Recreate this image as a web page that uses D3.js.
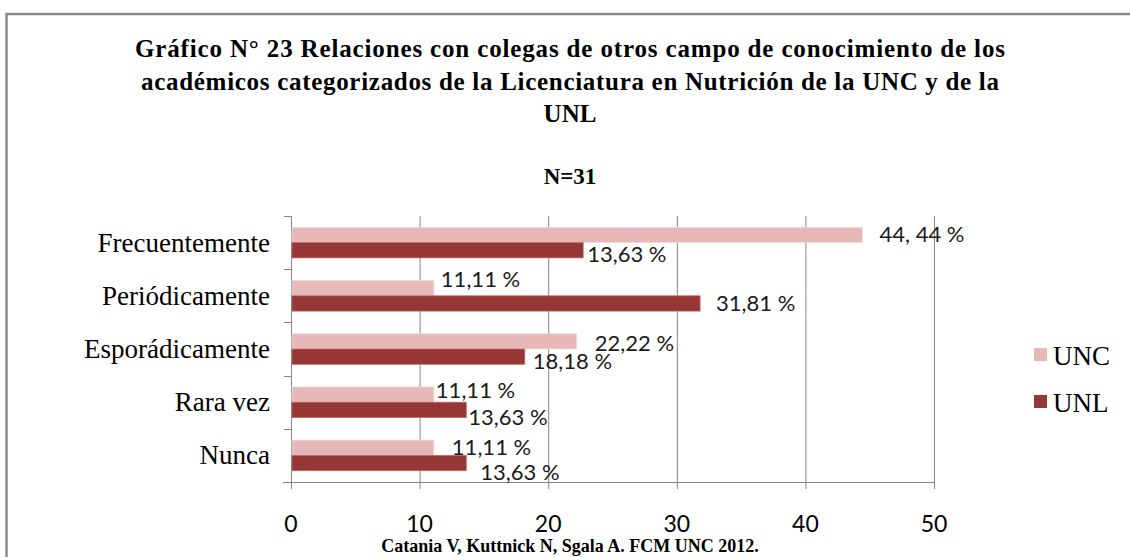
<!DOCTYPE html>
<html>
<head>
<meta charset="utf-8">
<script src="https://cdn.jsdelivr.net/npm/d3@7"></script>
<style>
  body { margin: 0; background: #fff; }
  svg { display: block; }
</style>
</head>
<body>
<div id="chart"></div>
<script>
// Gráfico N° 23 - relaciones con colegas de otros campos (UNC vs UNL)
var categories = ["Frecuentemente", "Periódicamente", "Esporádicamente", "Rara vez", "Nunca"];
var seriesNames = ["UNC", "UNL"];
var uncValues = [44.44, 11.11, 22.22, 11.11, 11.11];
var unlValues = [22.72, 31.81, 18.18, 13.63, 13.63];
// label texts as printed on the original (first UNL label does not match its bar)
var uncLabels = ["44, 44 %", "11,11 %", "22,22 %", "11,11 %", "11,11 %"];
var unlLabels = ["13,63 %", "31,81 %", "18,18 %", "13,63 %", "13,63 %"];
var xTicks = [0, 10, 20, 30, 40, 50];

var titleLines = [
    "Gráfico  N° 23 Relaciones con colegas de otros campo de conocimiento de los",
    "académicos categorizados de la Licenciatura en Nutrición de la UNC y de la",
    "UNL"
];
var subtitle = "N=31";
var source = "Catania V, Kuttnick N, Sgala A. FCM UNC 2012.";

var colors = {UNC: "#e6b9b8", UNL: "#953735"};

// hand nudges for the data labels (Excel moved some of them around)
var uncNudge = [[17, 0], [7, -9], [18, 2], [2, -4], [18, 0]];
var unlNudge = [[4, 4], [16, 0], [8, 5], [2, 8], [14, 9]];

var svgWidth = 1130;
var svgHeight = 557;

var svg = d3.select("#chart").append("svg")
    .attr("width", svgWidth)
    .attr("height", svgHeight);

// chart border (cropped on right and bottom)
svg.append("path")
    .attr("d", "M6.5,557 L6.5,14 L1130,14")
    .attr("fill", "none")
    .attr("stroke", "#8a8a8a")
    .attr("stroke-width", 2.5);

// titles
var serif = "'Liberation Serif', 'Times New Roman', serif";
var titleWidths = [870, 858, null];
svg.selectAll(".title")
    .data(titleLines)
    .enter()
    .append("text")
    .attr("class", "title")
    .attr("x", 570)
    .attr("y", (d, i) => 57 + i * 32.5)
    .attr("text-anchor", "middle")
    .attr("textLength", (d, i) => titleWidths[i])
    .attr("lengthAdjust", "spacing")
    .style("font-family", serif)
    .style("font-weight", "bold")
    .style("font-size", "25px")
    .attr("fill", "#000")
    .text(d => d);

svg.append("text")
    .attr("x", 570)
    .attr("y", 184)
    .attr("text-anchor", "middle")
    .style("font-family", serif)
    .style("font-weight", "bold")
    .style("font-size", "23px")
    .text(subtitle);

svg.append("text")
    .attr("x", 570)
    .attr("y", 552)
    .attr("text-anchor", "middle")
    .style("font-family", serif)
    .style("font-weight", "bold")
    .style("font-size", "18px")
    .text(source);

// plot area
var plot = {left: 291, right: 934, top: 216, bottom: 482};

var xScale = d3.scaleLinear()
    .domain([0, 50])
    .range([plot.left, plot.right]);

var yScale = d3.scaleBand()
    .domain(categories)
    .range([plot.top, plot.bottom])
    .paddingInner(0.425)
    .paddingOuter(0.2125);

var ySub = d3.scaleBand()
    .domain(seriesNames)
    .range([0, yScale.bandwidth()]);

var gridColor = "#868686";

// vertical gridlines + ticks below the axis
svg.append("g")
    .selectAll("line")
    .data(xTicks)
    .enter()
    .append("line")
    .attr("x1", d => xScale(d) + 0.5)
    .attr("x2", d => xScale(d) + 0.5)
    .attr("y1", plot.top)
    .attr("y2", plot.bottom + 7)
    .attr("stroke", gridColor)
    .attr("stroke-width", 1);

// x tick labels
var sans = "Lato, 'Open Sans', sans-serif";
svg.append("g")
    .selectAll("text")
    .data(xTicks)
    .enter()
    .append("text")
    .attr("x", d => xScale(d))
    .attr("y", 532)
    .attr("text-anchor", "middle")
    .style("font-family", sans)
    .style("font-size", "23px")
    .attr("fill", "#000")
    .text(d => d);

// category axis: line with ticks at band edges
var step = yScale.step();
var edges = d3.range(categories.length + 1).map(i => plot.top + i * step);
svg.append("line")
    .attr("x1", plot.left + 0.5)
    .attr("x2", plot.left + 0.5)
    .attr("y1", plot.top)
    .attr("y2", plot.bottom)
    .attr("stroke", gridColor);
svg.append("line")
    .attr("x1", plot.left - 8)
    .attr("x2", plot.right)
    .attr("y1", plot.bottom + 0.5)
    .attr("y2", plot.bottom + 0.5)
    .attr("stroke", gridColor);
svg.append("g")
    .selectAll("line")
    .data(edges)
    .enter()
    .append("line")
    .attr("x1", plot.left - 7)
    .attr("x2", plot.left)
    .attr("y1", d => Math.round(d) + 0.5)
    .attr("y2", d => Math.round(d) + 0.5)
    .attr("stroke", gridColor);

svg.append("g")
    .selectAll("text")
    .data(categories)
    .enter()
    .append("text")
    .attr("x", 270)
    .attr("y", d => yScale(d) - yScale.step() * 0.2125 + step / 2 + 9)
    .attr("text-anchor", "end")
    .style("font-family", serif)
    .style("font-size", "27px")
    .attr("fill", "#000")
    .text(d => d);

// bars
var rows = [];
categories.forEach((c, i) => {
    rows.push({cat: c, s: "UNC", v: uncValues[i], label: uncLabels[i], nudge: uncNudge[i]});
    rows.push({cat: c, s: "UNL", v: unlValues[i], label: unlLabels[i], nudge: unlNudge[i]});
});

svg.append("g")
    .selectAll("rect")
    .data(rows)
    .enter()
    .append("rect")
    .attr("x", plot.left + 1)
    .attr("y", d => yScale(d.cat) + ySub(d.s))
    .attr("width", d => xScale(d.v) - plot.left - 1)
    .attr("height", ySub.bandwidth())
    .attr("fill", d => colors[d.s])
    .attr("stroke", d => d.s == "UNC" ? "#f2dcdb" : "#c06a68")
    .attr("stroke-width", 0.8);

// data labels
svg.append("g")
    .selectAll("text")
    .data(rows)
    .enter()
    .append("text")
    .attr("x", d => xScale(d.v) + d.nudge[0])
    .attr("y", d => yScale(d.cat) + ySub(d.s) + ySub.bandwidth() / 2 + 7.5 + d.nudge[1])
    .style("font-family", sans)
    .style("font-size", "22px")
    .attr("fill", "#1a1a1a")
    .text(d => d.label);

// legend
var legend = svg.append("g")
    .selectAll("g")
    .data(seriesNames)
    .enter()
    .append("g")
    .attr("transform", (d, i) => `translate(1034, ${348 + i * 47})`);
legend.append("rect")
    .attr("width", 13)
    .attr("height", 13)
    .attr("fill", d => colors[d]);
legend.append("text")
    .attr("x", 19)
    .attr("y", 17)
    .style("font-family", serif)
    .style("font-size", "27px")
    .text(d => d);
</script>
</body>
</html>
